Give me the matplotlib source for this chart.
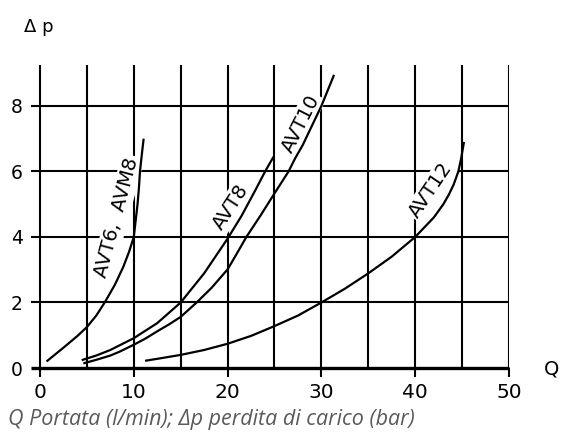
import matplotlib.pyplot as plt
import numpy as np

plt.rcParams['font.family'] = ['DejaVu Sans']

# curves (Q in l/min, dp in bar)
avt6_q = [0.7, 2.5, 4.0, 5.0, 6.0, 6.9, 8.0, 8.9, 9.5, 10.0, 10.2, 10.4, 10.55, 10.66, 10.85, 11.05]
avt6_dp = [0.2, 0.62, 0.98, 1.25, 1.6, 2.0, 2.55, 3.1, 3.55, 4.0, 4.5, 5.0, 5.5, 6.0, 6.5, 7.0]

avt8_q = [4.45, 6.0, 7.5, 10.0, 12.5, 15.0, 17.5, 20.0, 21.5, 23.0, 24.0, 24.9]
avt8_dp = [0.24, 0.38, 0.55, 0.91, 1.37, 2.0, 2.89, 3.95, 4.65, 5.45, 6.0, 6.45]

avt10_q = [4.62, 6.0, 7.5, 8.5, 10.0, 11.25, 12.5, 13.75, 15.0, 16.7, 18.3, 20.0,
           21.0, 22.0, 23.5, 25.0, 26.5, 27.2, 28.0, 29.0, 30.0, 31.35]
avt10_dp = [0.14, 0.25, 0.38, 0.5, 0.71, 0.9, 1.12, 1.33, 1.56, 2.0, 2.45, 3.01,
            3.5, 4.0, 4.65, 5.33, 6.0, 6.4, 6.8, 7.4, 8.0, 8.95]

avt12_q = [11.2, 12.5, 15.0, 17.5, 20.0, 22.5, 25.0, 27.5, 30.0, 32.5, 35.0, 37.5,
           40.0, 41.0, 42.0, 43.0, 43.6, 44.1, 44.6, 44.9, 45.2]
avt12_dp = [0.22, 0.28, 0.40, 0.55, 0.74, 0.98, 1.28, 1.6, 2.0, 2.42, 2.89, 3.4,
            4.0, 4.3, 4.6, 5.0, 5.3, 5.6, 6.0, 6.4, 6.9]

curves = [
    (avt6_q, avt6_dp),
    (avt8_q, avt8_dp),
    (avt10_q, avt10_dp),
    (avt12_q, avt12_dp),
]

# label text, position, angle
labels = [
    ('AVT6,  AVM8', 8.2, 4.6, 75),
    ('AVT8', 20.3, 4.9, 57),
    ('AVT10', 27.8, 7.45, 63),
    ('AVT12', 41.7, 5.43, 56),
]

x_ticks = [0, 10, 20, 30, 40, 50]
y_ticks = [0, 2, 4, 6, 8]

fig = plt.figure(figsize=(5.61, 4.37), dpi=100)
ax = fig.add_axes([30.6 / 561, 69 / 437, 478.4 / 561, 303 / 437])
ax.set_xlim(-1, 50)
ax.set_ylim(0, 9.25)

# grid
ax.vlines(np.arange(0, 51, 5), 0, 9.25, color='black', lw=1.5, zorder=1)
ax.hlines([2, 4, 6, 8], -1, 50, color='black', lw=1.5, zorder=1)
ax.hlines([0], -1, 50, color='black', lw=2.4, zorder=4, clip_on=False)

for q, dp in curves:
    ax.plot(q, dp, color='black', lw=1.6, zorder=3, solid_capstyle='butt')

for txt, x, y, rot in labels:
    ax.text(x, y, txt, rotation=rot, rotation_mode='anchor', ha='center',
            va='center', fontsize=14, zorder=2,
            bbox=dict(fc='white', ec='none', pad=1.5))

for s in ax.spines.values():
    s.set_visible(False)

ax.set_xticks(x_ticks)
ax.set_yticks(y_ticks)
ax.tick_params(axis='x', length=6.5, width=1.5, direction='out', pad=4,
               labelsize=14.5)
ax.tick_params(axis='y', length=0, pad=5.5, labelsize=13.5)

fig.text(24 / 561, 1 - 27 / 437, '\u0394 p', fontsize=13, va='center')
fig.text(544 / 561, 1 - 369 / 437, 'Q', fontsize=14, va='center')
fig.text(8 / 561, 1 - 420 / 437, 'Q Portata (l/min); \u0394p perdita di carico (bar)',
         fontsize=15.5, style='italic', color='#5a5a5a', va='center',
         family=['Open Sans', 'DejaVu Sans'])

fig.savefig('out.png', dpi=100)
